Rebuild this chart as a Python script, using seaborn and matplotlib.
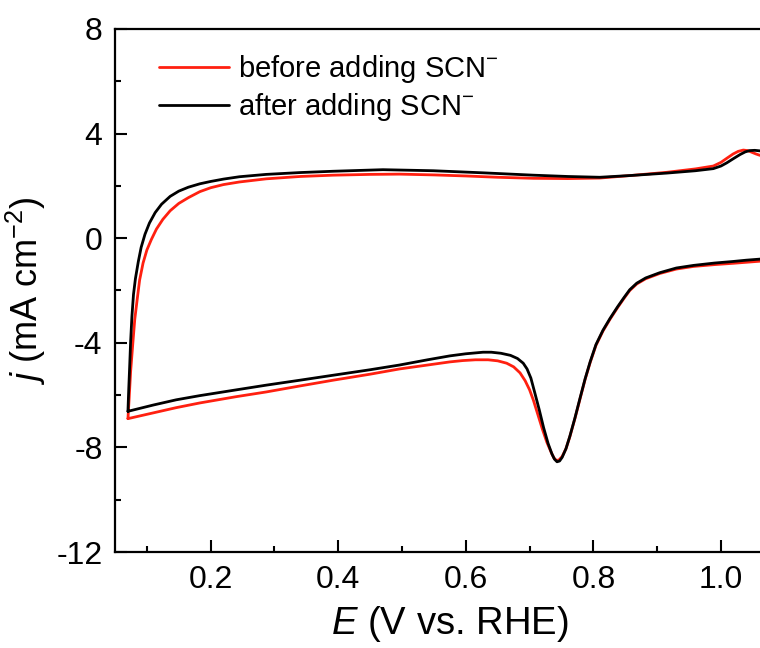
import numpy as np
import pandas as pd
import matplotlib
matplotlib.use("Agg")
import matplotlib.pyplot as plt
import seaborn as sns

# ---- data ----
before_E = [0.0703, 0.072, 0.0745, 0.078, 0.081, 0.085, 0.0886, 0.094, 0.100, 0.107, 0.115,
            0.125, 0.1365, 0.150, 0.165, 0.183, 0.200, 0.220, 0.245, 0.287, 0.340, 0.392,
            0.450, 0.496, 0.550, 0.600, 0.650, 0.706, 0.760, 0.810, 0.860, 0.915, 0.960,
            0.988, 1.000, 1.010, 1.019, 1.027, 1.035, 1.042, 1.048, 1.055, 1.061, 1.080, 1.100,
            1.100, 1.061, 1.040, 1.019, 0.990, 0.957, 0.930, 0.904, 0.882, 0.868, 0.857,
            0.848, 0.838, 0.826, 0.815, 0.804, 0.795, 0.787, 0.779, 0.771, 0.763, 0.757,
            0.751, 0.746, 0.742, 0.738, 0.734, 0.727, 0.720, 0.713, 0.706, 0.700, 0.693,
            0.685, 0.675, 0.664, 0.650, 0.635, 0.615, 0.595, 0.575, 0.540, 0.496, 0.450,
            0.392, 0.340, 0.287, 0.240, 0.183, 0.146, 0.110, 0.0703]
before_j = [-6.90, -6.20, -5.10, -4.00, -3.10, -2.30, -1.60, -0.95, -0.45, -0.05, 0.35,
            0.72, 1.05, 1.33, 1.55, 1.78, 1.93, 2.05, 2.15, 2.27, 2.36, 2.41,
            2.44, 2.45, 2.42, 2.38, 2.33, 2.29, 2.28, 2.30, 2.40, 2.52, 2.65,
            2.76, 2.90, 3.07, 3.22, 3.32, 3.37, 3.35, 3.29, 3.22, 3.17, 3.10, 3.05,
            -0.75, -0.88, -0.92, -0.96, -1.01, -1.08, -1.18, -1.35, -1.55, -1.75, -2.00,
            -2.30, -2.65, -3.10, -3.55, -4.10, -4.75, -5.40, -6.15, -6.90, -7.60, -8.05,
            -8.35, -8.48, -8.50, -8.40, -8.20, -7.80, -7.30, -6.75, -6.20, -5.80, -5.45,
            -5.15, -4.92, -4.78, -4.69, -4.65, -4.65, -4.68, -4.73, -4.85, -5.00, -5.20,
            -5.43, -5.65, -5.88, -6.06, -6.30, -6.48, -6.68, -6.90]

after_E = [0.0703, 0.0715, 0.073, 0.0745, 0.0765, 0.079, 0.082, 0.0865, 0.091, 0.097, 0.104,
           0.113, 0.123, 0.1365, 0.150, 0.165, 0.183, 0.200, 0.220, 0.245, 0.287, 0.340,
           0.392, 0.470, 0.549, 0.627, 0.706, 0.760, 0.810, 0.860, 0.915, 0.960, 0.988,
           1.000, 1.009, 1.020, 1.030, 1.038, 1.045, 1.053, 1.061, 1.080, 1.100,
           1.100, 1.061, 1.040, 1.019, 0.990, 0.957, 0.930, 0.904, 0.882, 0.868, 0.857,
           0.848, 0.838, 0.826, 0.815, 0.804, 0.795, 0.787, 0.779, 0.771, 0.763, 0.757,
           0.751, 0.747, 0.743, 0.739, 0.735, 0.729, 0.722, 0.715, 0.708, 0.702, 0.696,
           0.690, 0.681, 0.670, 0.655, 0.640, 0.627, 0.600, 0.575, 0.540, 0.496, 0.450,
           0.392, 0.340, 0.287, 0.240, 0.183, 0.146, 0.110, 0.0703]
after_j = [-6.62, -5.80, -4.90, -3.95, -3.00, -2.15, -1.55, -0.90, -0.35, 0.15, 0.58,
           0.98, 1.30, 1.60, 1.80, 1.95, 2.08, 2.17, 2.26, 2.35, 2.44, 2.51,
           2.56, 2.62, 2.58, 2.50, 2.41, 2.36, 2.33, 2.40, 2.49, 2.58, 2.66,
           2.76, 2.88, 3.05, 3.20, 3.30, 3.35, 3.36, 3.34, 3.30, 3.25,
           -0.68, -0.80, -0.84, -0.89, -0.95, -1.04, -1.14, -1.32, -1.52, -1.72, -1.97,
           -2.27, -2.62, -3.07, -3.52, -4.07, -4.72, -5.38, -6.12, -6.88, -7.58, -8.05,
           -8.38, -8.52, -8.55, -8.45, -8.25, -7.85, -7.25, -6.55, -5.90, -5.35, -5.00,
           -4.78, -4.60, -4.48, -4.40, -4.36, -4.36, -4.42, -4.50, -4.65, -4.85, -5.03,
           -5.24, -5.43, -5.62, -5.80, -6.02, -6.18, -6.38, -6.62]

series_labels = ["before adding SCN$^{-}$", "after adding SCN$^{-}$"]
series_colors = ["#ff2010", "#000000"]

x_ticks = [0.2, 0.4, 0.6, 0.8, 1.0]
y_ticks = [-12, -8, -4, 0, 4, 8]

# ---- build table ----
df = pd.concat([
    pd.DataFrame({"E": before_E, "j": before_j, "series": series_labels[0]}),
    pd.DataFrame({"E": after_E, "j": after_j, "series": series_labels[1]}),
], ignore_index=True)

sns.set_style("ticks")
plt.rcParams["font.family"] = ["Liberation Sans", "DejaVu Sans"]
plt.rcParams["mathtext.fontset"] = "custom"
plt.rcParams["mathtext.rm"] = "Liberation Sans"
plt.rcParams["mathtext.it"] = "Liberation Sans:italic"
plt.rcParams["mathtext.bf"] = "Liberation Sans:bold"
plt.rcParams["axes.unicode_minus"] = False
plt.rcParams["text.color"] = "black"
plt.rcParams["axes.labelcolor"] = "black"
plt.rcParams["xtick.color"] = "black"
plt.rcParams["ytick.color"] = "black"

fig = plt.figure(figsize=(7.6, 6.48), dpi=100)
# axes extends past the right edge (the reference is cropped there)
ax = fig.add_axes([115 / 760, 96 / 648, (784.75 - 115) / 760, 523 / 648])

sns.lineplot(data=df, x="E", y="j", hue="series", sort=False, estimator=None,
             palette=dict(zip(series_labels, series_colors)), linewidth=2.0, ax=ax)
for ln in ax.lines:
    ln.set_solid_joinstyle("round")

ax.set_xlim(0.05, 1.1)
ax.set_ylim(-12, 8)
ax.set_xticks(x_ticks)
ax.set_xticklabels([f"{v:.1f}" for v in x_ticks])
ax.set_yticks(y_ticks)
ax.set_yticklabels([str(v) for v in y_ticks])
ax.set_xticks([0.1, 0.3, 0.5, 0.7, 0.9], minor=True)
ax.set_yticks([-10, -6, -2, 2, 6], minor=True)
ax.tick_params(which="major", direction="in", length=8.5, width=1.5, labelsize=23, pad=9,
               colors="black")
ax.tick_params(which="minor", direction="in", length=4.5, width=1.5, colors="black")
for s in ax.spines.values():
    s.set_linewidth(1.6)
    s.set_color("black")

ax.set_xlabel(r"$\mathit{E}$ (V vs. RHE)", fontsize=27.5, labelpad=7, color="black")
ax.set_ylabel(r"$\mathit{j}$ (mA cm$^{-2}$)", fontsize=26, labelpad=6, color="black")

handles, labels = ax.get_legend_handles_labels()
leg = ax.legend(handles, labels, loc="upper left", bbox_to_anchor=(0.027, 1.004),
                frameon=False, fontsize=21, handlelength=2.4, handletextpad=0.3,
                labelspacing=0.2)
for h in leg.legend_handles:
    h.set_linewidth(2.0)
for t in leg.get_texts():
    t.set_color("black")

fig.savefig("out.png", dpi=100)
